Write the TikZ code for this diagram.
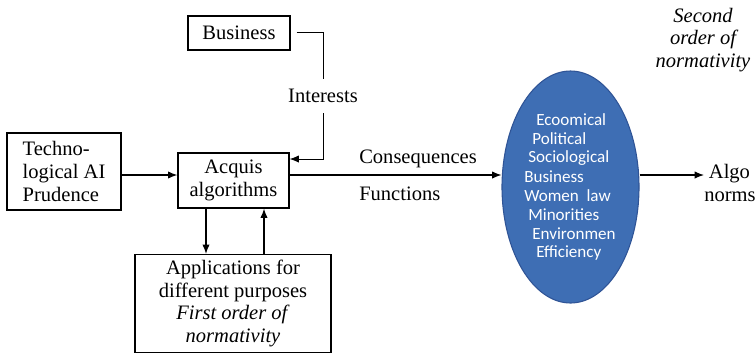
\documentclass[tikz,border=0pt]{standalone}
\usepackage{fontspec}
\setmainfont{Liberation Serif}
\newfontfamily\calfont{Carlito}
\usetikzlibrary{shapes.geometric,arrows.meta}
\definecolor{ellfill}{RGB}{62,110,180}
\definecolor{elldraw}{RGB}{47,84,150}
\begin{document}
\begin{tikzpicture}[x=0.75pt,y=-0.75pt,
  box/.style={draw,line width=0.9pt,inner sep=0pt,align=center,font=\fontsize{15.4}{16.9}\selectfont},
  txt/.style={inner sep=0pt,font=\fontsize{15.4}{16.9}\selectfont},
  etxt/.style={inner sep=0pt,anchor=west,text=white,font=\calfont\fontsize{12.8}{14.3}\selectfont},
  arr/.style={line width=0.9pt,-{Latex[length=7pt,width=5.5pt]}},
  ln/.style={line width=0.6pt}]
\useasboundingbox (0,0) rectangle (755,354);
% boxes
\node[box,minimum width=85.5pt,minimum height=57.75pt,align=left] (tech) at (64,171.5) {Techno-\\logical AI\\Prudence};
\node[box,minimum width=83.25pt,minimum height=41.25pt] (acq) at (233.5,180.5) {Acquis\\algorithms};
\node[box,minimum width=147pt,minimum height=73.5pt] (app) at (233,303.5) {Applications for\\different purposes\\\textit{First order of}\\\textit{normativity}};
\node[box,minimum width=76.5pt,minimum height=25.5pt] (biz) at (239,33) {Business};
\node[txt,inner ysep=7.6pt] (int) at (323,96) {Interests};
\node[draw=elldraw,fill=ellfill,line width=0.8pt,ellipse,minimum width=102.75pt,minimum height=174pt] (ell) at (570.5,187) {};
% ellipse texts
\node[etxt] (e1) at (536,120) {Ecoomical};
\node[etxt] (e2) at (532,139) {Political};
\node[etxt] (e3) at (528,158) {Sociological};
\node[etxt] (e4) at (524,177) {Business};
\node[etxt] (e5) at (524,196) {Women\ \ law};
\node[etxt] (e6) at (528,215) {Minorities};
\node[etxt] (e7) at (532,234) {Environmen};
\node[etxt] (e8) at (536,253) {Efficiency};
% labels
\node[txt,anchor=west] (cons) at (359,159) {Consequences};
\node[txt,anchor=west] (func) at (359,194) {Functions};
\node[txt,anchor=west,align=left] (algo) at (704,183) {\hspace*{3.5pt}Algo\\norms};
\node[txt,align=center,font=\fontsize{15.4}{16.9}\selectfont\itshape] (sec) at (703,40) {Second\\order of\\normativity};
% connectors
\coordinate (m) at (0,175);
\coordinate (bz) at (323,32);
\coordinate (ai) at (323,159);
\draw[arr] (tech.east|-m) -- (acq.west|-m);
\draw[arr] (acq.east|-m) -- (ell.west|-m);
\draw[arr] (ell.east|-m) -- (algo.west|-m);
\draw[ln] ([xshift=4.5pt]biz.east|-bz) -- (bz) -- (int.north);
\draw[arr,line width=0.7pt] (int.south) -- (ai) -- (acq.east|-ai);
\draw[arr] (acq.south-|206,0) -- (app.north-|206,0);
\draw[arr] (app.north-|264,0) -- (acq.south-|264,0);
\end{tikzpicture}
\end{document}
